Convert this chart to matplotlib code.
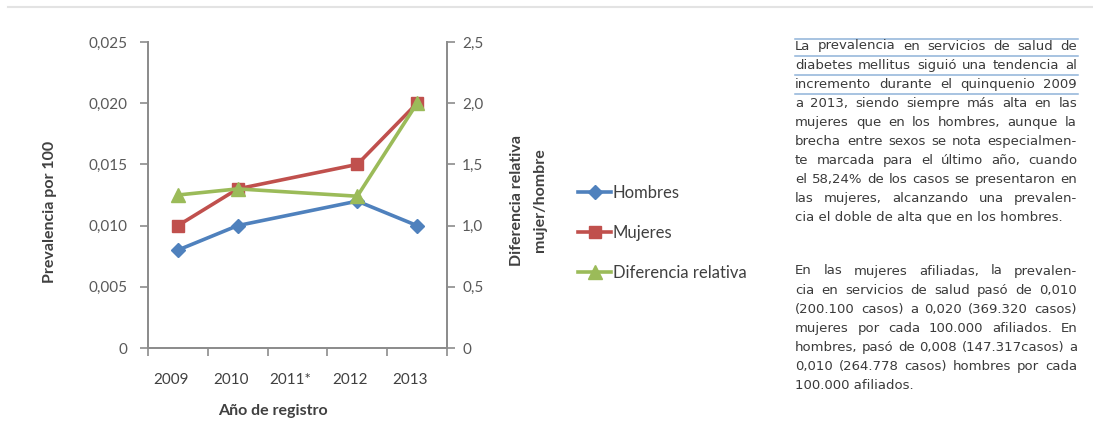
import matplotlib.pyplot as plt
from matplotlib.lines import Line2D
from matplotlib.transforms import ScaledTranslation

# Prevalence of diabetes mellitus (per 100) by sex and registry year
years = ["2009", "2010", "2011*", "2012", "2013"]
hombres = [0.008, 0.010, None, 0.012, 0.010]
mujeres = [0.010, 0.013, None, 0.015, 0.020]
diferencia = [1.25, 1.30, None, 1.24, 2.00]

left_ticks = [0, 0.005, 0.010, 0.015, 0.020, 0.025]
left_labels = ["0", "0,005", "0,010", "0,015", "0,020", "0,025"]
right_ticks = [0, 0.5, 1.0, 1.5, 2.0, 2.5]
right_labels = ["0", "0,5", "1,0", "1,5", "2,0", "2,5"]

BLUE = "#4F81BD"
RED = "#C0504D"
GREEN = "#9BBB59"
AXIS = "#8C8C8C"
TICKTXT = "#595959"
TXT = "#404040"

plt.rcParams["font.family"] = ["Lato", "DejaVu Sans"]

W, H = 1093, 430
fig = plt.figure(figsize=(W / 100, H / 100), dpi=100)
fig.patch.set_facecolor("white")


def pts(values):
    xs = [i for i, v in enumerate(values) if v is not None]
    ys = [v for v in values if v is not None]
    return xs, ys


ax = fig.add_axes([148 / W, 1 - 348 / H, 299 / W, 306 / H])
ax2 = ax.twinx()

x, y = pts(hombres)
ax.plot(x, y, color=BLUE, lw=2.6, marker="D", ms=7.5, zorder=3)
x, y = pts(mujeres)
ax.plot(x, y, color=RED, lw=2.6, marker="s", ms=9, zorder=3)
x, y = pts(diferencia)
ax2.plot(x, y, color=GREEN, lw=2.6, marker="^", ms=9.5, zorder=3)

ax.set_xlim(-0.5, 4.5)
ax.set_ylim(0, 0.025)
ax2.set_ylim(0, 2.5)

ax.set_yticks(left_ticks)
ax.set_yticklabels(left_labels)
ax2.set_yticks(right_ticks)
ax2.set_yticklabels(right_labels)

# category boundaries get tick marks, labels sit at the category centres
ax.set_xticks([i - 0.5 for i in range(len(years) + 1)])
ax.set_xticklabels([])
ax.set_xticks(range(len(years)), minor=True)
ax.set_xticklabels(years, minor=True)
ax.tick_params(axis="x", which="minor", length=0, pad=18, labelsize=11,
               labelcolor=TXT)
ax.tick_params(axis="x", which="major", length=6, color=AXIS, width=1.2)
ax.tick_params(axis="y", length=6, color=AXIS, width=1.2, pad=9,
               labelsize=11, labelcolor=TICKTXT)
ax2.tick_params(axis="y", length=6, color=AXIS, width=1.2, pad=5,
                labelsize=11, labelcolor=TICKTXT)
for lbl in ax.get_xticklabels(minor=True):
    lbl.set_transform(lbl.get_transform() +
                      ScaledTranslation(-0.07, 0, fig.dpi_scale_trans))

for a in (ax, ax2):
    a.spines["top"].set_visible(False)
    for s in ("left", "right", "bottom"):
        a.spines[s].set_color(AXIS)
        a.spines[s].set_linewidth(1.3)

LABEL = dict(ha="center", va="center", fontsize=11.5, fontweight="bold",
             color=TXT)
fig.text(273 / W, 1 - 411 / H, "Año de registro", **LABEL)
fig.text(50 / W, 1 - 212 / H, "Prevalencia por 100", rotation=90, **LABEL)
fig.text(517 / W, 1 - 200 / H, "Diferencia relativa", rotation=90, **LABEL)
fig.text(540 / W, 1 - 200 / H, "mujer/hombre", rotation=90, **LABEL)

handles = [
    Line2D([], [], color=BLUE, lw=2.6, marker="D", ms=7.5),
    Line2D([], [], color=RED, lw=2.6, marker="s", ms=9),
    Line2D([], [], color=GREEN, lw=2.6, marker="^", ms=9.5),
]
fig.legend(handles, ["Hombres", "Mujeres", "Diferencia relativa"],
           loc="center left", bbox_to_anchor=(563 / W, 1 - 233 / H),
           frameon=False, fontsize=12, labelcolor=TXT, handlelength=2.0,
           handletextpad=0.1, labelspacing=1.45)

# separator line at the top of the page
fig.add_artist(Line2D([8 / W, 1], [1 - 7 / H, 1 - 7 / H],
                      transform=fig.transFigure, color="#E3E3E3", lw=1.5))

para1 = [
    "La prevalencia en servicios de salud de",
    "diabetes mellitus siguió una tendencia al",
    "incremento durante el quinquenio 2009",
    "a 2013, siendo siempre más alta en las",
    "mujeres que en los hombres, aunque la",
    "brecha entre sexos se nota especialmen-",
    "te marcada para el último año, cuando",
    "el 58,24% de los casos se presentaron en",
    "las mujeres, alcanzando una prevalen-",
    "cia el doble de alta que en los hombres.",
]
para2 = [
    "En las mujeres afiliadas, la prevalen-",
    "cia en servicios de salud pasó de 0,010",
    "(200.100 casos) a 0,020 (369.320 casos)",
    "mujeres por cada 100.000 afiliados. En",
    "hombres, pasó de 0,008 (147.317casos) a",
    "0,010 (264.778 casos) hombres por cada",
    "100.000 afiliados.",
]

renderer = fig.canvas.get_renderer()
x0, x1 = 795, 1077
LINE_H = 19.1
BODY = dict(fontsize=9.5, color="#3A3A3A", va="center", ha="left",
            family="DejaVu Sans")


def justified(lines, y_top, last_ragged=True):
    for k, line in enumerate(lines):
        yy = 1 - (y_top + k * LINE_H) / H
        words = line.split(" ")
        if last_ragged and k == len(lines) - 1:
            fig.text(x0 / W, yy, line, **BODY)
            continue
        arts = [fig.text(0, yy, w, **BODY) for w in words]
        widths = [a.get_window_extent(renderer).width for a in arts]
        gap = (x1 - x0 - sum(widths)) / max(len(words) - 1, 1)
        pos = x0
        for a, wd in zip(arts, widths):
            a.set_x(pos / W)
            pos += wd + gap


justified(para1, 46)
justified(para2, 271)

# highlight rules across the first lines of the paragraph
for yl in (39, 56, 75, 94):
    fig.add_artist(Line2D([x0 / W, (x1 + 1) / W], [1 - yl / H, 1 - yl / H],
                          transform=fig.transFigure, color="#8FB3D9", lw=1.1))

fig.savefig("out.png", dpi=100, facecolor="white")
